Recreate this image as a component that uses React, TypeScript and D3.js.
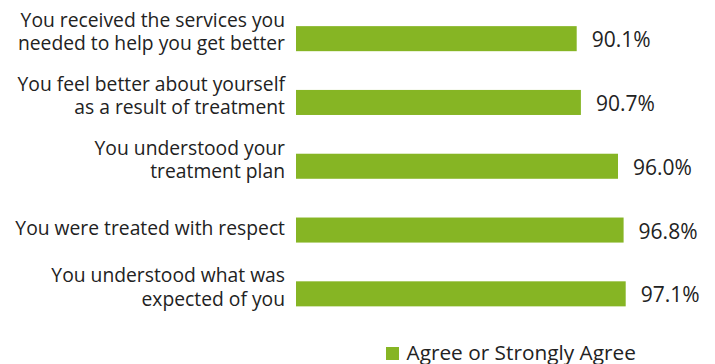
import React from "react";
import * as d3 from "d3";

const categories: string[][] = [
  ["You received the services you", "needed to help you get better"],
  ["You feel better about yourself", "as a result of treatment"],
  ["You understood your", "treatment plan"],
  ["You were treated with respect"],
  ["You understood what was", "expected of you"],
];
const values: number[] = [90.1, 90.7, 96.0, 96.8, 97.1];
const seriesName = "Agree or Strongly Agree";

const W = 715;
const H = 364;
const COLOR = "#86b524";
const TEXT = "#222222";
const FONT = "'Open Sans', sans-serif";

export default function App() {
  const x = d3.scaleLinear().domain([50, 100]).range([296, 646]);
  const y = d3
    .scaleBand<number>()
    .domain(d3.range(categories.length))
    .range([7, 325.5])
    .paddingInner(0.6075)
    .paddingOuter(0.3);
  const lh = 23.3;
  return (
    <div style={{ position: "absolute", left: 0, top: 0 }}>
      <svg width={W} height={H} style={{ display: "block" }} fontFamily={FONT}>
        <rect width={W} height={H} fill="#fff" />
        {values.map((v, i) => {
          const y0 = y(i)!;
          const cy = y0 + y.bandwidth() / 2;
          const lines = categories[i];
          const first = cy + 5 - (lines.length - 1) * 16.5;
          return (
            <g key={i}>
              <rect x={x(50)} y={y0} width={x(v) - x(50)} height={y.bandwidth()} fill={COLOR} />
              <text x={x(v) + 15} y={cy + 8.5} fontSize={21} fill={TEXT}>
                {v.toFixed(1) + "%"}
              </text>
              <text textAnchor="end" fontSize={19.3} fill={TEXT}>
                {lines.map((l, j) => (
                  <tspan key={j} x={285} y={first + j * lh}>
                    {l}
                  </tspan>
                ))}
              </text>
            </g>
          );
        })}
        <rect x={386} y={347} width={13} height={13} fill={COLOR} />
        <text x={406.5} y={359.5} fontSize={20.8} fill={TEXT}>
          {seriesName}
        </text>
      </svg>
    </div>
  );
}
